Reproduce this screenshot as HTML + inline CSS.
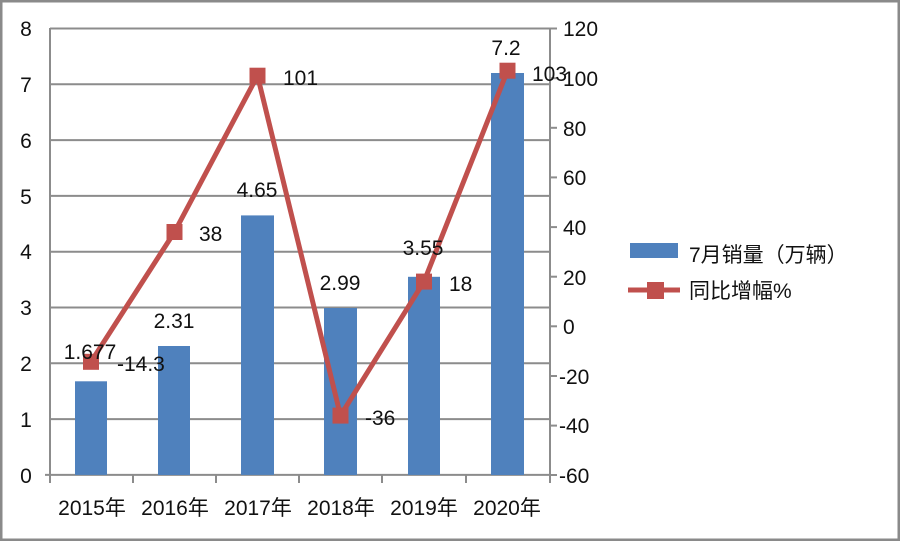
<!DOCTYPE html>
<html><head><meta charset="utf-8"><style>
html,body{margin:0;padding:0;background:#fff;}
svg text{font-family:"Liberation Sans","Noto Sans CJK SC",sans-serif;fill:#111;font-size:21px;}
</style></head><body>
<svg width="900" height="541" viewBox="0 0 900 541" xmlns="http://www.w3.org/2000/svg">
<rect x="1" y="1" width="898" height="539" fill="#fff" stroke="#8a8a8a" stroke-width="3"/>
<g stroke="#8c8c8c" stroke-width="2">
<line x1="50" y1="28.5" x2="550" y2="28.5"/>
<line x1="50" y1="84.3" x2="550" y2="84.3"/>
<line x1="50" y1="140.1" x2="550" y2="140.1"/>
<line x1="50" y1="195.9" x2="550" y2="195.9"/>
<line x1="50" y1="251.7" x2="550" y2="251.7"/>
<line x1="50" y1="307.5" x2="550" y2="307.5"/>
<line x1="50" y1="363.3" x2="550" y2="363.3"/>
<line x1="50" y1="419.1" x2="550" y2="419.1"/>
<line x1="45" y1="474.9" x2="550" y2="474.9"/>
<line x1="50" y1="28" x2="50" y2="475"/>
<line x1="550" y1="28" x2="550" y2="475"/>
<line x1="50" y1="475" x2="50" y2="483"/><line x1="133" y1="475" x2="133" y2="483"/>
<line x1="216" y1="475" x2="216" y2="483"/><line x1="299" y1="475" x2="299" y2="483"/>
<line x1="382" y1="475" x2="382" y2="483"/><line x1="466" y1="475" x2="466" y2="483"/>
<line x1="550" y1="475" x2="550" y2="483"/>
<line x1="550" y1="28.5" x2="557" y2="28.5"/><line x1="550" y1="78.2" x2="557" y2="78.2"/>
<line x1="550" y1="127.8" x2="557" y2="127.8"/><line x1="550" y1="177.4" x2="557" y2="177.4"/>
<line x1="550" y1="227.1" x2="557" y2="227.1"/><line x1="550" y1="276.7" x2="557" y2="276.7"/>
<line x1="550" y1="326.3" x2="557" y2="326.3"/><line x1="550" y1="376" x2="557" y2="376"/>
<line x1="550" y1="425.6" x2="557" y2="425.6"/><line x1="550" y1="475" x2="557" y2="475"/>
</g>
<g fill="#4f81bd">
<rect x="75" y="381.3" width="32" height="93.6"/>
<rect x="158" y="346" width="32" height="129"/>
<rect x="241" y="215.4" width="33" height="259.5"/>
<rect x="324" y="308" width="33" height="167"/>
<rect x="408" y="276.8" width="32" height="198.1"/>
<rect x="491" y="73" width="33" height="402"/>
</g>
<polyline points="91,361.8 174.5,232 257.5,75.7 340.5,415.6 424,281.6 507.5,70.7" fill="none" stroke="#c0504d" stroke-width="5" stroke-linejoin="round"/>
<g fill="#c0504d">
<rect x="83" y="353.8" width="16" height="16"/>
<rect x="166.5" y="224" width="16" height="16"/>
<rect x="249.5" y="67.7" width="16" height="16"/>
<rect x="332.5" y="407.6" width="16" height="16"/>
<rect x="416" y="273.6" width="16" height="16"/>
<rect x="499.5" y="62.7" width="16" height="16"/>
</g>
<g text-anchor="middle">
<text x="26" y="36">8</text><text x="26" y="92">7</text><text x="26" y="148">6</text>
<text x="26" y="204">5</text><text x="26" y="259">4</text><text x="26" y="315">3</text>
<text x="26" y="371">2</text><text x="26" y="427">1</text><text x="26" y="483">0</text>
</g>
<g text-anchor="start">
<text x="563" y="36">120</text><text x="563" y="86">100</text><text x="563" y="136">80</text>
<text x="563" y="185">60</text><text x="563" y="235">40</text><text x="563" y="285">20</text>
<text x="563" y="334">0</text><text x="559" y="384">-20</text><text x="559" y="433">-40</text>
<text x="559" y="483">-60</text>
</g>
<g text-anchor="middle" style="font-size:20px">
<text x="92" y="515">2015年</text><text x="175" y="515">2016年</text><text x="258" y="515">2017年</text>
<text x="341" y="515">2018年</text><text x="424" y="515">2019年</text><text x="507" y="515">2020年</text>
</g>
<g text-anchor="middle">
<text x="90" y="359">1.677</text>
<text x="174" y="328">2.31</text>
<text x="257" y="197">4.65</text>
<text x="340" y="290">2.99</text>
<text x="423" y="255">3.55</text>
<text x="506" y="55">7.2</text>
</g>
<g text-anchor="start">
<text x="117" y="371">-14.3</text>
<text x="199" y="241">38</text>
<text x="283" y="85">101</text>
<text x="365" y="425">-36</text>
<text x="449" y="291">18</text>
<text x="532" y="81">103</text>
</g>
<rect x="630" y="243" width="48" height="15" fill="#4f81bd"/>
<text x="689" y="262">7月销量（万辆）</text>
<line x1="628" y1="290" x2="680" y2="290" stroke="#c0504d" stroke-width="5"/>
<rect x="647" y="282" width="17" height="17" fill="#c0504d"/>
<text x="689" y="298">同比增幅%</text>
</svg>
</body></html>
